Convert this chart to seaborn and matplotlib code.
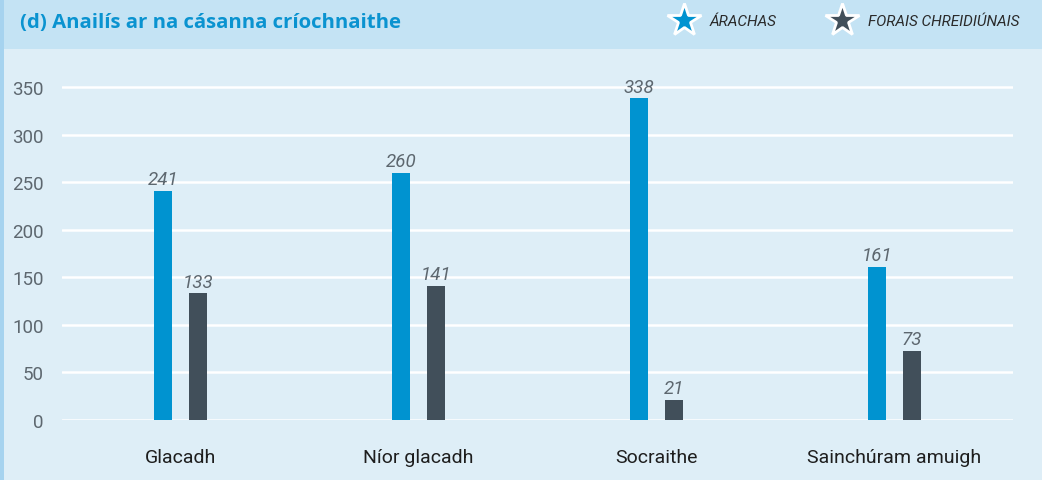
import pandas as pd
import matplotlib.pyplot as plt
import seaborn as sns
from matplotlib.lines import Line2D
from matplotlib.patches import Rectangle

categories = ["Glacadh", "Níor glacadh", "Socraithe", "Sainchúram amuigh"]
arachas = [241, 260, 338, 161]
forais = [133, 141, 21, 73]
series_names = ["ÁRACHAS", "FORAIS CHREIDIÚNAIS"]
colors = ["#0093d0", "#414f5a"]
yticks = [0, 50, 100, 150, 200, 250, 300, 350]

df = pd.DataFrame({
    "cat": categories * 2,
    "value": arachas + forais,
    "series": [series_names[0]] * 4 + [series_names[1]] * 4,
})

sns.set_style("white")
plt.rcParams["font.family"] = ["Roboto", "DejaVu Sans"]

bg = "#deeef7"
fig = plt.figure(figsize=(10.42, 4.81), dpi=100, facecolor=bg)

# header band and left strip
fig.add_artist(Rectangle((0, 1 - 50 / 481), 1, 50 / 481, transform=fig.transFigure,
                         facecolor="#c4e3f4", edgecolor="none", zorder=0))
fig.add_artist(Rectangle((0, 0), 4 / 1042, 1, transform=fig.transFigure,
                         facecolor="#a6d3ef", edgecolor="none", zorder=1))

ax = fig.add_axes([62 / 1042, 60 / 481, 951 / 1042, 352 / 481])
ax.set_facecolor(bg)

sns.barplot(data=df, x="cat", y="value", hue="series", palette=colors,
            width=0.294, gap=0.485, legend=False, ax=ax, saturation=1,
            linewidth=0, edgecolor="none")

for cont in ax.containers:
    ax.bar_label(cont, padding=2, fontsize=13.5, fontstyle="italic",
                 color="#5d676f")

ax.set_ylim(0, 370)
ax.set_xlim(-0.5, 3.5)
ax.set_yticks(yticks)
ax.yaxis.grid(True, color="white", linewidth=1.8)
ax.set_axisbelow(True)
for s in ax.spines.values():
    s.set_visible(False)
ax.tick_params(axis="y", length=0, pad=13, labelsize=13.5, labelcolor="#5d676f")
ax.tick_params(axis="x", length=0, pad=20, labelsize=14, labelcolor="#1e1e1e")
ax.set_xlabel("")
ax.set_ylabel("")

fig.text(20 / 1042, 1 - 23 / 481, "(d) Anailís ar na cásanna críochnaithe",
         fontsize=14.7, fontweight="bold", color="#0a93d0", va="center",
         family=["Open Sans", "DejaVu Sans"])

handles = [Line2D([], [], linestyle="none", marker="*", markersize=25,
                  markerfacecolor=c, markeredgecolor="white", markeredgewidth=2)
           for c in colors]
leg = fig.legend(handles, series_names, loc="center right",
                 bbox_to_anchor=(1033 / 1042, 1 - 22 / 481), ncol=2, frameon=False,
                 handlelength=1.0, handletextpad=1.2, columnspacing=3.75,
                 prop={"style": "italic", "size": 11})
for t in leg.get_texts():
    t.set_color("#2a2a2a")

fig.savefig("out.png", dpi=100, facecolor=bg)
